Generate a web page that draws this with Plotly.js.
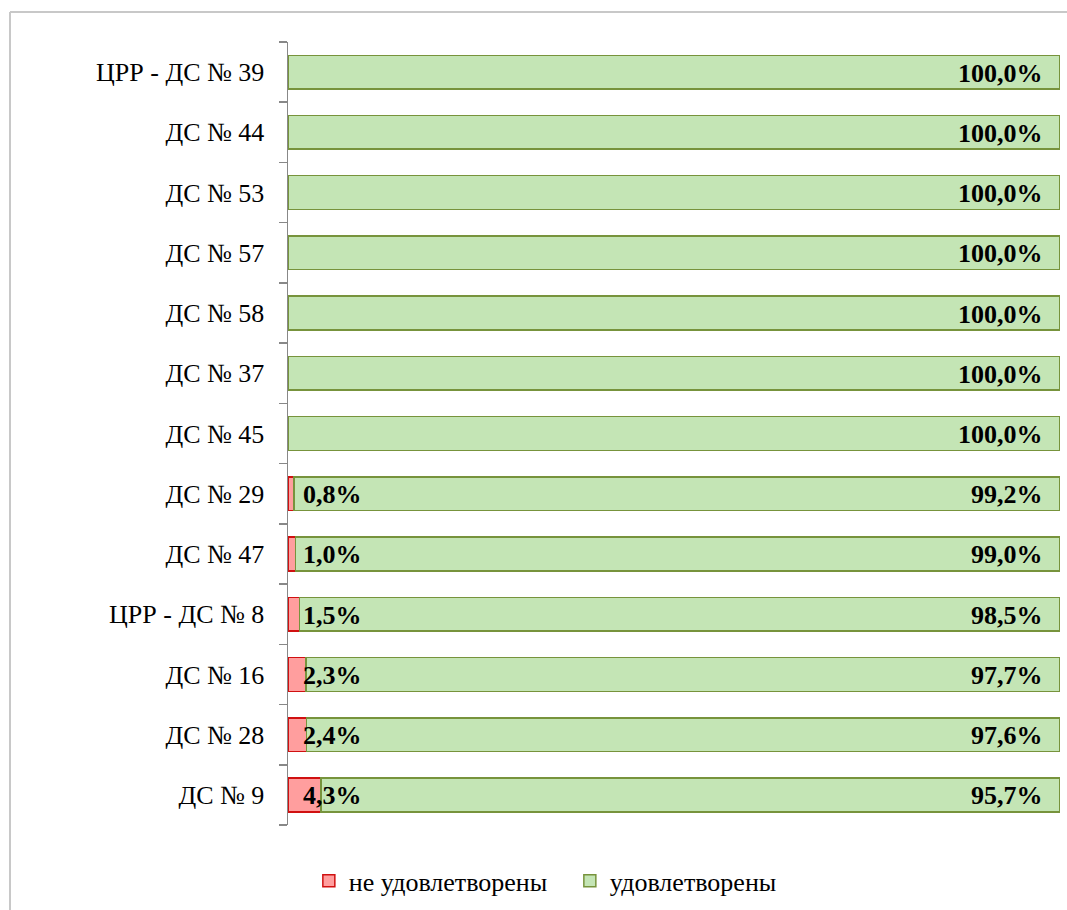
<!DOCTYPE html>
<html>
<head>
<meta charset="utf-8">
<script src="https://cdn.plot.ly/plotly-3.0.1.min.js"></script>
<style>
html,body{margin:0;padding:0;background:#fff;}
#chart{width:1067px;height:910px;}
</style>
</head>
<body>
<div id="chart"></div>
<script>
// Categories listed bottom to top
var categories = ["ДС № 9","ДС № 28","ДС № 16","ЦРР - ДС № 8","ДС № 47","ДС № 29","ДС № 45","ДС № 37","ДС № 58","ДС № 57","ДС № 53","ДС № 44","ЦРР - ДС № 39"];
var notSatisfied = [4.3, 2.4, 2.3, 1.5, 1.0, 0.8, 0, 0, 0, 0, 0, 0, 0];
var satisfied = [95.7, 97.6, 97.7, 98.5, 99.0, 99.2, 100, 100, 100, 100, 100, 100, 100];
var seriesNames = ["не удовлетворены", "удовлетворены"];

function fmt(v){ return v.toFixed(1).replace('.', ',') + '%'; }

var serif = "Liberation Serif";
var labelFont = {family: serif, size: 26, color: "#000"};

var traces = [
  {
    type: "bar", orientation: "h", name: seriesNames[0],
    y: categories, x: notSatisfied, width: 0.56,
    marker: {color: "#FF9E9E", line: {color: "#D01010", width: 1.5}},
    hoverinfo: "none"
  },
  {
    type: "bar", orientation: "h", name: seriesNames[1],
    y: categories, x: satisfied, width: 0.56,
    marker: {color: "#C4E5B5", line: {color: "#77933C", width: 1.5}},
    hoverinfo: "none"
  }
];

var annotations = [];
categories.forEach(function(c, i){
  if (notSatisfied[i] > 0) {
    annotations.push({
      x: 0, y: c, xref: "x", yref: "y", text: "<b>" + fmt(notSatisfied[i]) + "</b>",
      showarrow: false, xanchor: "left", yanchor: "middle", xshift: 13, yshift: -1,
      font: labelFont
    });
  }
  annotations.push({
    x: notSatisfied[i] + satisfied[i], y: c, xref: "x", yref: "y", text: "<b>" + fmt(satisfied[i]) + "</b>",
    showarrow: false, xanchor: "right", yanchor: "middle", xshift: -15, yshift: -1,
    font: labelFont
  });
});

var layout = {
  width: 1067, height: 910,
  margin: {l: 288, r: 7, t: 42, b: 84},
  paper_bgcolor: "#fff", plot_bgcolor: "#fff",
  barmode: "stack",
  showlegend: true,
  legend: {
    orientation: "h", x: 0.027, xanchor: "left", y: -0.04, yanchor: "top",
    xref: "paper", yref: "paper",
    font: labelFont, itemwidth: 30, traceorder: "normal",
    entrywidth: 216
  },
  xaxis: {
    range: [0, 100], showgrid: false, zeroline: false, showticklabels: false,
    ticks: "", showline: false, fixedrange: true
  },
  yaxis: {
    type: "category", categoryorder: "array", categoryarray: categories,
    showgrid: false, zeroline: false, showline: true, linecolor: "#888888", linewidth: 1.5,
    ticks: "outside", tickson: "boundaries", ticklen: 8, tickcolor: "#888888", tickwidth: 1.5,
    tickfont: labelFont, ticklabelstandoff: 17, range: [-0.5, 12.5]
  },
  annotations: annotations,
  shapes: [
    {type: "line", xref: "paper", yref: "paper", x0: -0.3601, x1: -0.3601, y0: -0.12, y1: 1.0383, line: {color: "#C8C8C8", width: 2}},
    {type: "line", xref: "paper", yref: "paper", x0: -0.3601, x1: 1.02, y0: 1.0383, y1: 1.0383, line: {color: "#C8C8C8", width: 2}}
  ]
};

Plotly.newPlot("chart", traces, layout, {displayModeBar: false, staticPlot: true});
</script>
</body>
</html>
